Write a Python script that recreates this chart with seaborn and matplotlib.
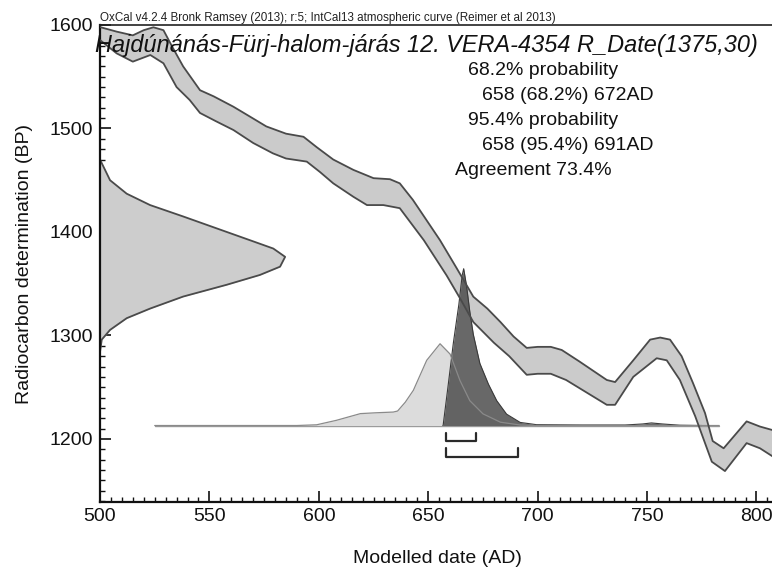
import matplotlib
matplotlib.use("Agg")
import matplotlib.pyplot as plt
import seaborn as sns
from matplotlib.ticker import MultipleLocator

# ---------------- data ----------------
# IntCal13 calibration band (upper / lower edge), calendar year AD vs BP
cal_years_upper = [500, 507.6, 515, 520, 524.4, 529, 533, 538, 545.7, 552, 561, 568.6, 576, 585, 593, 599,
                   606.6, 615.8, 625, 632.5, 637, 643, 655.4, 663, 670.6, 677, 683, 689, 695, 700, 706, 711,
                   719, 731.6, 735.4, 743.7, 751.4, 756, 760.5, 765.8, 771, 776.5, 780, 785, 795.5, 801.6, 807.5]
cal_bp_upper = [1598, 1593.6, 1590, 1595, 1597.8, 1595, 1579, 1560, 1537, 1531, 1521, 1511.4, 1502, 1495, 1492, 1482,
                1470, 1460, 1452, 1451, 1447, 1431, 1392, 1365, 1337.5, 1326, 1313, 1299, 1288, 1289, 1289, 1286,
                1275, 1257, 1255, 1276, 1296, 1298, 1296, 1280, 1254, 1225, 1198, 1191, 1217, 1212, 1208.5]
cal_years_lower = [500, 507.6, 515, 523, 529, 535, 541, 545.7, 553, 561, 570, 579, 585, 594.5, 600.5, 606.6,
                   615.8, 622, 629.5, 637, 648, 658.4, 664.5, 670.6, 680, 687, 695, 700, 706, 713, 731.6, 735.4,
                   743.7, 754.4, 759, 765, 772, 779.6, 785.6, 795.5, 801.6, 807.5]
cal_bp_lower = [1585.5, 1572.6, 1564.6, 1571, 1563, 1540, 1527.5, 1515, 1507, 1498.5, 1486, 1476, 1471, 1468, 1458, 1447,
                1434, 1426, 1426, 1423, 1392, 1358, 1336, 1313, 1293, 1280, 1262, 1263, 1263, 1257, 1233, 1233,
                1260, 1278, 1276, 1257, 1222, 1178, 1169, 1196, 1191, 1183]

# Radiocarbon likelihood R_Date(1375,30) drawn on the y axis (width in years)
lik_bp = [1470, 1450, 1437, 1426, 1415, 1403.5, 1392, 1384, 1376, 1366.5, 1358.5, 1349, 1337.6, 1326, 1316.7, 1305.4, 1296, 1284]
lik_width = [0, 4.6, 12.2, 22.9, 38, 53.3, 68.6, 79.2, 84.6, 82.3, 73.1, 57.9, 38, 22.9, 12.2, 4.6, 0.8, 0]

# calibrated (unmodelled) distribution
prior_years = [525, 590, 599, 608, 619, 626, 634, 636, 639.5, 643.2, 649.3, 655.4, 660, 664.5, 669, 675, 683, 692, 700, 783]
prior_height = [0, 0, 0.7, 5, 11.5, 12.3, 13, 14, 22.5, 34, 63, 79, 69, 43.5, 24, 11.3, 3.2, 0.5, 0, 0]

# modelled (posterior) distribution
post_years = [656.7, 656.8, 659, 661.5, 664, 665.5, 666.2, 667.5, 669, 670.6, 673.6, 677.5, 681.3, 685.8, 692,
              699.5, 720, 740, 748, 752, 757, 765, 775]
post_height = [0, 0, 37, 80, 117, 145, 151.5, 135, 110, 88, 60, 40, 24, 11, 3, 0.8, 0.5, 0.5, 1.5, 2.5, 1.5, 0.3, 0]

dist_baseline = 1213
baseline_span = [525, 783]

# highest-density ranges
range_labels = ["68.2%", "95.4%"]
range_start = [658, 658]
range_end = [672, 691]
range_bp = [1198, 1183]

header = "OxCal v4.2.4 Bronk Ramsey (2013); r:5; IntCal13 atmospheric curve (Reimer et al 2013)"
title = "Hajdúnánás-Fürj-halom-járás 12. VERA-4354 R_Date(1375,30)"
info_lines = ["68.2% probability", "658 (68.2%) 672AD", "95.4% probability", "658 (95.4%) 691AD", "Agreement 73.4%"]
info_x = [468, 482, 468, 482, 455]

# ---------------- plot ----------------
sns.set_theme(style="ticks")
plt.rcParams['font.family'] = ['Liberation Sans', 'DejaVu Sans']

W, H = 772, 570
fig = plt.figure(figsize=(W / 100, H / 100), dpi=100)
ax = fig.add_axes([100 / W, 68 / H, 672 / W, 477 / H])
ax.set_xlim(500, 807.1)
ax.set_ylim(1139.1, 1600)

edge = "#4a4a4a"
# calibration band
ax.fill(cal_years_upper + cal_years_lower[::-1], cal_bp_upper + cal_bp_lower[::-1],
        color="#cbcbcb", lw=0, zorder=1)

# likelihood on y axis
lik_x = [500 + w for w in lik_width]
ax.fill_betweenx(lik_bp, 500, lik_x, color="#cdcdcd", lw=0, zorder=1)
sns.lineplot(x=lik_x, y=lik_bp, sort=False, estimator=None, color=edge, lw=1.3, ax=ax, zorder=2)

# distributions
sns.lineplot(x=baseline_span, y=[dist_baseline] * 2, sort=False, estimator=None,
             color="#9a9a9a", lw=1.0, ax=ax, zorder=3)
prior_top = [dist_baseline + h for h in prior_height]
ax.fill_between(prior_years, dist_baseline, prior_top, color="#dcdcdc", lw=0, zorder=3)
post_top = [dist_baseline + h for h in post_height]
ax.fill_between(post_years, dist_baseline, post_top, color="#4e4e4e", alpha=0.85, lw=0, zorder=4)
sns.lineplot(x=post_years, y=post_top, sort=False, estimator=None, color="#3a3a3a", lw=0.8, ax=ax, zorder=5)
sns.lineplot(x=prior_years, y=prior_top, sort=False, estimator=None, color="#8a8a8a", lw=0.9, ax=ax, zorder=5)

# calibration band outlines (drawn over the distributions)
sns.lineplot(x=cal_years_upper, y=cal_bp_upper, sort=False, estimator=None, color=edge, lw=1.3, ax=ax, zorder=5.5)
sns.lineplot(x=cal_years_lower, y=cal_bp_lower, sort=False, estimator=None, color=edge, lw=1.3, ax=ax, zorder=5.5)

# range brackets
for s, e, yb in zip(range_start, range_end, range_bp):
    sns.lineplot(x=[s, s, e, e], y=[yb + 8, yb, yb, yb + 8], sort=False, estimator=None,
                 color="#2a2a2a", lw=1.6, ax=ax, zorder=6)

# axes styling
ax.xaxis.set_major_locator(MultipleLocator(50))
ax.xaxis.set_minor_locator(MultipleLocator(5))
ax.yaxis.set_major_locator(MultipleLocator(100))
ax.yaxis.set_minor_locator(MultipleLocator(10))
ax.tick_params(which="major", direction="in", length=8, width=1.2, color="#111",
               labelsize=14, labelcolor="#111")
ax.tick_params(which="minor", direction="in", length=3.6, width=1.0, color="#111")
ax.tick_params(axis="x", pad=4)
ax.tick_params(axis="y", pad=5)
for side in ["left", "bottom"]:
    ax.spines[side].set_linewidth(1.6)
    ax.spines[side].set_color("#111")
ax.spines["top"].set_linewidth(1.2)
ax.spines["top"].set_color("#222")
ax.spines["right"].set_visible(False)

ax.set_xlabel("Modelled date (AD)", fontsize=14, color="#111")
ax.set_ylabel("Radiocarbon determination (BP)", fontsize=14, color="#111")
ax.xaxis.set_label_coords((437 - 100) / 672, (502 - 550) / 477)
ax.yaxis.set_label_coords((33 - 100) / 672, 0.5)

# texts
fig.text(100 / W, 1 - 21 / H, header, fontsize=8.4, color="#222", va="baseline", ha="left")
fig.text(95 / W, 1 - 52 / H, title, fontsize=16.9, style="italic", color="#111", va="baseline", ha="left")
for i, (line, xp) in enumerate(zip(info_lines, info_x)):
    fig.text(xp / W, 1 - (75 + 25 * i) / H, line, fontsize=14, color="#111", va="baseline", ha="left")

fig.savefig("out.png", dpi=100)
